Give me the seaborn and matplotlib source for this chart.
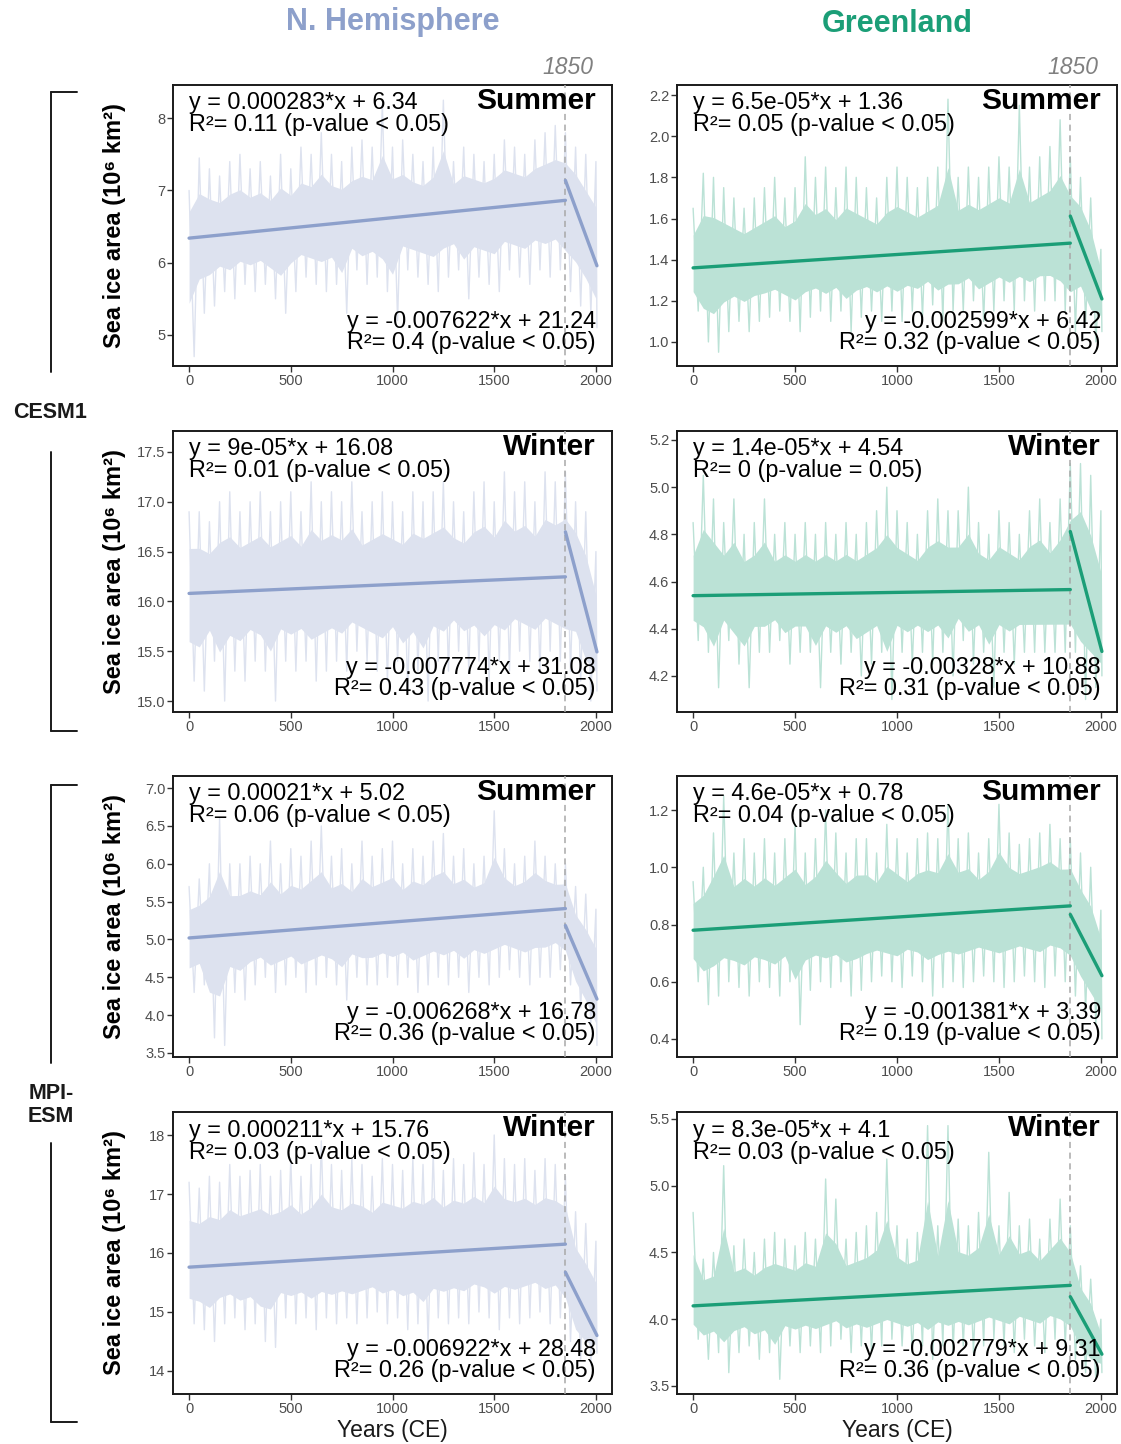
import numpy as np
import pandas as pd
import matplotlib
matplotlib.use("Agg")
import matplotlib.pyplot as plt
import seaborn as sns
from matplotlib.lines import Line2D
from matplotlib.ticker import FormatStrFormatter
from matplotlib.transforms import blended_transform_factory

sns.set_theme(style="ticks")
plt.rcParams['font.family'] = ['Liberation Sans', 'DejaVu Sans']
plt.rcParams['text.color'] = 'black'
plt.rcParams['axes.labelcolor'] = 'black'

# ---------------- data ----------------
years50 = list(range(0, 2001, 50))

# CESM1 - N. Hemisphere summer: upper / lower extremes per 50-yr step
cesm_nh_sum_hi = [7.0, 7.45, 7.3, 7.2, 7.4, 7.5, 7.3, 7.4, 7.2, 7.5, 7.3, 7.6, 7.5, 7.8, 7.5, 7.4, 7.6, 7.7, 7.6, 8.2,
                  7.6, 7.7, 7.5, 7.4, 7.6, 8.25, 7.4, 7.6, 7.5, 7.4, 7.5, 7.7, 7.6, 7.5, 7.7, 7.8, 7.9, 7.8, 7.6, 7.5, 7.4]
cesm_nh_sum_lo = [4.7, 5.3, 5.4, 5.6, 5.5, 5.7, 5.6, 5.7, 5.5, 5.3, 5.6, 5.8, 5.7, 5.6, 5.7, 5.3, 5.9, 5.7, 5.8, 5.6,
                  5.2, 5.9, 5.8, 5.7, 5.6, 5.8, 5.9, 5.5, 5.8, 5.7, 5.6, 5.9, 5.8, 5.7, 5.9, 5.8, 5.9, 5.6, 5.4, 5.3, 5.1]
# CESM1 - Greenland summer
cesm_gl_sum_hi = [1.65, 1.82, 1.8, 1.75, 1.7, 1.65, 1.7, 1.75, 1.8, 1.7, 1.75, 1.9, 1.8, 1.85, 1.75, 1.85, 1.8, 1.75, 1.7, 1.8,
                  1.85, 1.8, 1.75, 1.8, 1.85, 2.18, 1.8, 1.85, 1.8, 1.85, 1.9, 1.85, 2.15, 1.85, 1.9, 1.95, 2.08, 1.9, 1.8, 1.7, 1.45]
cesm_gl_sum_lo = [1.15, 1.0, 0.95, 1.05, 1.1, 1.05, 1.1, 1.12, 1.15, 1.1, 1.05, 1.12, 1.15, 1.1, 1.15, 1.05, 1.12, 1.15, 1.1, 1.15,
                  1.1, 1.15, 1.12, 1.18, 1.1, 1.15, 1.15, 1.2, 1.1, 1.15, 1.2, 1.15, 1.2, 1.15, 1.2, 1.2, 1.15, 1.05, 1.1, 1.0, 1.05]
# CESM1 - N. Hemisphere winter
cesm_nh_win_hi = [16.9, 16.9, 16.8, 17.0, 17.1, 16.9, 17.0, 17.1, 16.9, 17.0, 17.1, 16.9, 17.2, 17.0, 17.1, 17.0, 17.2, 16.9, 17.0, 17.1,
                  17.0, 16.9, 17.1, 17.0, 17.1, 17.2, 17.0, 16.9, 17.1, 17.2, 17.0, 17.3, 17.1, 17.2, 17.0, 17.3, 17.2, 17.3, 17.0, 16.9, 16.5]
cesm_nh_win_lo = [15.2, 15.1, 15.4, 15.0, 15.3, 15.2, 15.4, 15.3, 15.0, 15.4, 15.3, 15.4, 15.2, 15.3, 15.4, 15.3, 15.5, 15.4, 15.3, 15.2,
                  15.4, 15.1, 15.3, 15.0, 15.4, 15.3, 15.5, 15.3, 15.4, 15.2, 15.4, 15.3, 15.5, 15.4, 15.3, 15.5, 15.4, 15.3, 15.2, 15.0, 15.1]
# CESM1 - Greenland winter
cesm_gl_win_hi = [4.85, 5.05, 4.95, 4.85, 4.95, 4.8, 4.85, 4.95, 4.8, 4.85, 4.8, 4.85, 4.8, 4.85, 4.8, 4.85, 4.8, 4.85, 4.9, 5.0,
                  4.9, 4.85, 4.8, 4.9, 4.95, 4.9, 4.9, 5.0, 4.85, 4.8, 4.9, 4.85, 4.8, 4.9, 4.95, 4.85, 4.95, 5.1, 5.1, 5.05, 4.9]
cesm_gl_win_lo = [4.35, 4.3, 4.15, 4.35, 4.25, 4.15, 4.3, 4.3, 4.35, 4.25, 4.3, 4.3, 4.15, 4.3, 4.25, 4.3, 4.2, 4.25, 4.3, 4.1,
                  4.3, 4.25, 4.3, 4.25, 4.3, 4.2, 4.35, 4.25, 4.3, 4.15, 4.3, 4.25, 4.3, 4.3, 4.3, 4.3, 4.3, 4.3, 4.1, 4.15, 4.2]
# MPI-ESM - N. Hemisphere summer
mpi_nh_sum_hi = [5.7, 5.8, 6.0, 6.6, 6.0, 6.0, 6.1, 6.0, 6.3, 6.0, 6.2, 6.1, 6.3, 6.5, 6.1, 6.2, 6.0, 6.3, 6.1, 6.2,
                 6.3, 6.0, 6.2, 6.1, 6.3, 6.4, 6.1, 6.2, 6.0, 6.1, 6.7, 6.2, 6.0, 6.1, 6.3, 6.1, 6.0, 6.0, 5.7, 5.6, 5.4]
mpi_nh_sum_lo = [4.3, 4.4, 3.7, 3.6, 4.3, 4.2, 4.4, 4.5, 4.3, 4.4, 4.5, 4.3, 4.4, 4.5, 4.4, 4.2, 4.5, 4.4, 4.4, 4.5,
                 4.4, 4.5, 4.3, 4.4, 4.5, 4.4, 4.5, 4.3, 4.5, 4.4, 4.5, 4.6, 4.5, 4.4, 4.5, 4.5, 4.6, 4.4, 4.1, 3.9, 3.6]
# MPI-ESM - Greenland summer
mpi_gl_sum_hi = [0.95, 1.0, 1.12, 1.25, 1.05, 1.1, 1.05, 1.1, 1.05, 1.1, 1.15, 1.05, 1.1, 1.2, 1.12, 1.05, 1.1, 1.1, 1.05, 1.15,
                 1.1, 1.05, 1.1, 1.12, 1.1, 1.22, 1.1, 1.12, 1.05, 1.1, 1.22, 1.12, 1.08, 1.1, 1.12, 1.15, 1.1, 1.1, 1.05, 1.0, 0.85]
mpi_gl_sum_lo = [0.6, 0.52, 0.55, 0.6, 0.58, 0.55, 0.6, 0.58, 0.55, 0.6, 0.45, 0.57, 0.6, 0.58, 0.6, 0.55, 0.57, 0.6, 0.62, 0.6,
                 0.58, 0.62, 0.6, 0.55, 0.58, 0.6, 0.58, 0.6, 0.62, 0.6, 0.58, 0.6, 0.62, 0.6, 0.58, 0.62, 0.6, 0.55, 0.5, 0.45, 0.4]
# MPI-ESM - N. Hemisphere winter
mpi_nh_win_hi = [17.2, 17.1, 17.3, 17.2, 17.5, 17.3, 17.4, 17.5, 17.3, 17.4, 17.6, 17.3, 17.5, 17.9, 17.5, 17.4, 17.6, 17.5, 17.3, 17.6,
                 17.5, 17.4, 17.6, 17.5, 17.7, 17.4, 17.6, 17.5, 17.7, 17.5, 18.0, 17.6, 17.5, 17.6, 17.4, 17.6, 17.5, 17.3, 16.7, 16.5, 16.2]
mpi_nh_win_lo = [14.8, 14.7, 14.5, 14.8, 14.9, 14.7, 14.8, 14.5, 14.4, 14.9, 14.8, 14.9, 14.7, 14.9, 14.8, 14.9, 14.8, 14.9, 15.0, 14.8,
                 14.9, 14.7, 14.8, 14.5, 14.9, 14.8, 14.9, 14.8, 15.0, 14.9, 14.7, 14.9, 14.8, 14.9, 15.0, 14.8, 14.9, 14.5, 14.2, 14.1, 14.3]
# MPI-ESM - Greenland winter
mpi_gl_win_hi = [4.8, 4.45, 4.5, 5.15, 4.55, 4.6, 4.5, 4.6, 4.65, 4.6, 4.55, 4.65, 4.6, 5.05, 4.9, 4.6, 4.65, 4.7, 4.8, 5.2,
                 4.7, 4.6, 4.65, 5.45, 4.7, 5.45, 4.75, 4.7, 4.8, 5.25, 4.7, 4.95, 4.7, 4.75, 4.6, 4.75, 4.9, 4.7, 4.4, 4.3, 4.0]
mpi_gl_win_lo = [3.85, 3.7, 3.75, 3.6, 3.75, 3.8, 3.7, 3.75, 3.55, 3.8, 3.75, 3.8, 3.75, 3.8, 3.85, 3.75, 3.8, 3.75, 3.8, 3.85,
                 3.8, 3.75, 3.8, 3.7, 3.8, 3.75, 3.8, 3.75, 3.8, 3.85, 3.8, 3.75, 3.85, 3.8, 3.75, 3.85, 3.8, 3.7, 3.6, 3.55, 3.6]

# regression fits: (slope, intercept) before and after 1850
pre_fit = [(0.000283, 6.34), (6.5e-05, 1.36), (9e-05, 16.08), (1.4e-05, 4.54),
           (0.00021, 5.02), (4.6e-05, 0.78), (0.000211, 15.76), (8.3e-05, 4.1)]
post_fit = [(-0.007622, 21.24), (-0.002599, 6.42), (-0.007774, 31.08), (-0.00328, 10.88),
            (-0.006268, 16.78), (-0.001381, 3.39), (-0.006922, 28.48), (-0.002779, 9.31)]
pre_eq = ["y = 0.000283*x + 6.34", "y = 6.5e-05*x + 1.36", "y = 9e-05*x + 16.08", "y = 1.4e-05*x + 4.54",
          "y = 0.00021*x + 5.02", "y = 4.6e-05*x + 0.78", "y = 0.000211*x + 15.76", "y = 8.3e-05*x + 4.1"]
pre_r2 = ["R²= 0.11 (p-value < 0.05)", "R²= 0.05 (p-value < 0.05)", "R²= 0.01 (p-value < 0.05)",
          "R²= 0 (p-value = 0.05)", "R²= 0.06 (p-value < 0.05)", "R²= 0.04 (p-value < 0.05)",
          "R²= 0.03 (p-value < 0.05)", "R²= 0.03 (p-value < 0.05)"]
post_eq = ["y = -0.007622*x + 21.24", "y = -0.002599*x + 6.42", "y = -0.007774*x + 31.08", "y = -0.00328*x + 10.88",
           "y = -0.006268*x + 16.78", "y = -0.001381*x + 3.39", "y = -0.006922*x + 28.48", "y = -0.002779*x + 9.31"]
post_r2 = ["R²= 0.4 (p-value < 0.05)", "R²= 0.32 (p-value < 0.05)", "R²= 0.43 (p-value < 0.05)",
           "R²= 0.31 (p-value < 0.05)", "R²= 0.36 (p-value < 0.05)", "R²= 0.19 (p-value < 0.05)",
           "R²= 0.26 (p-value < 0.05)", "R²= 0.36 (p-value < 0.05)"]
seasons = ["Summer", "Summer", "Winter", "Winter", "Summer", "Summer", "Winter", "Winter"]
column_titles = ["N. Hemisphere", "Greenland"]
model_labels = ["CESM1", "MPI-\nESM"]
yticks = [[5, 6, 7, 8], [1.0, 1.2, 1.4, 1.6, 1.8, 2.0, 2.2], [15.0, 15.5, 16.0, 16.5, 17.0, 17.5],
          [4.2, 4.4, 4.6, 4.8, 5.0, 5.2], [3.5, 4.0, 4.5, 5.0, 5.5, 6.0, 6.5, 7.0], [0.4, 0.6, 0.8, 1.0, 1.2],
          [14, 15, 16, 17, 18], [3.5, 4.0, 4.5, 5.0, 5.5]]
xticks = [0, 500, 1000, 1500, 2000]
breakpoint_year = 1850
end_year = 2005

his = [cesm_nh_sum_hi, cesm_gl_sum_hi, cesm_nh_win_hi, cesm_gl_win_hi,
       mpi_nh_sum_hi, mpi_gl_sum_hi, mpi_nh_win_hi, mpi_gl_win_hi]
los = [cesm_nh_sum_lo, cesm_gl_sum_lo, cesm_nh_win_lo, cesm_gl_win_lo,
       mpi_nh_sum_lo, mpi_gl_sum_lo, mpi_nh_win_lo, mpi_gl_win_lo]

# ---------------- style / layout ----------------
W, H = 1121, 1444
fig = plt.figure(figsize=(W / 100, H / 100), dpi=100)

nh_col, nh_light = "#8DA0CB", "#DDE2EF"
gl_col, gl_light = "#1B9E77", "#BBE2D6"

col_x = [(173, 612), (677, 1117)]
row_y = [(85, 366), (431, 712), (776, 1057), (1112, 1394)]
ylims = [(4.57, 8.46), (0.883, 2.249), (14.89, 17.71), (4.047, 5.238),
         (3.447, 7.16), (0.337, 1.319), (13.61, 18.39), (3.44, 5.552)]
yfmt = ["%d", "%.1f", "%.1f", "%.1f", "%.1f", "%.1f", "%d", "%.1f"]
core_share = 0.55   # share of the extreme range drawn as the dense core of the series


def fig_rect(x0, x1, y0, y1):
    return [x0 / W, 1 - y1 / H, (x1 - x0) / W, (y1 - y0) / H]


EQ_FS = 16.8

for i in range(8):
    r, c = i // 2, i % 2
    ax = fig.add_axes(fig_rect(*col_x[c], *row_y[r]))
    color, light = (nh_col, nh_light) if c == 0 else (gl_col, gl_light)

    a0, b0 = pre_fit[i]
    a1, b1 = post_fit[i]
    hi, lo = np.array(his[i]), np.array(los[i])
    yrs = np.array(years50)
    centre = np.where(yrs <= breakpoint_year, a0 * yrs + b0, a1 * yrs + b1)

    # dense core of the annual series
    ax.fill_between(yrs, centre + core_share * (lo - centre), centre + core_share * (hi - centre),
                    color=light, lw=0, zorder=1)
    # annual series spikes drawn as alternating extremes
    xs, ys = [], []
    for k, yr in enumerate(years50):
        xs += [yr, min(yr + 25, end_year)]
        ys += [hi[k], lo[k]]
    ser = pd.DataFrame({"year": xs, "area": ys})
    sns.lineplot(data=ser, x="year", y="area", ax=ax, color=light, lw=1.0,
                 estimator=None, sort=False, zorder=2)

    ax.axvline(breakpoint_year, color="#a8a8a8", ls=(0, (4, 3)), lw=1.1, zorder=3)

    pre = pd.DataFrame({"year": [0, breakpoint_year],
                        "area": [b0, a0 * breakpoint_year + b0]})
    post = pd.DataFrame({"year": [breakpoint_year, end_year],
                         "area": [a1 * breakpoint_year + b1, a1 * end_year + b1]})
    sns.lineplot(data=pre, x="year", y="area", ax=ax, color=color, lw=2.4, zorder=4)
    sns.lineplot(data=post, x="year", y="area", ax=ax, color=color, lw=2.4, zorder=4)

    ax.set_xlim(-79, 2079)
    ax.set_ylim(*ylims[i])
    ax.set_xticks(xticks)
    ax.set_yticks(yticks[i])
    ax.yaxis.set_major_formatter(FormatStrFormatter(yfmt[i]))
    ax.tick_params(axis="both", labelsize=10.5, labelcolor="#4d4d4d", color="#333333",
                   length=4, width=1, pad=1.5)
    for s in ax.spines.values():
        s.set_color("#1a1a1a")
        s.set_linewidth(1.4)
        s.set_visible(True)

    tr = blended_transform_factory(ax.transData, ax.transAxes)
    ax.text(0, 0.936, pre_eq[i], transform=tr, ha="left", va="center", fontsize=EQ_FS, zorder=6)
    ax.text(0, 0.858, pre_r2[i], transform=tr, ha="left", va="center", fontsize=EQ_FS, zorder=6)
    ax.text(2000, 0.157, post_eq[i], transform=tr, ha="right", va="center", fontsize=EQ_FS, zorder=6)
    ax.text(2000, 0.082, post_r2[i], transform=tr, ha="right", va="center", fontsize=EQ_FS, zorder=6)
    ax.text(2000, 0.943, seasons[i], transform=tr, ha="right", va="center", fontsize=21.5,
            fontweight="bold", zorder=6)

    if r == 0:
        ax.text(1862, 1.064, str(breakpoint_year), transform=tr, ha="center", va="center",
                fontsize=16.5, style="italic", color="#808080")

    if c == 0:
        ax.set_ylabel("Sea ice area (10⁶ km²)", fontsize=17, fontweight="bold")
        ax.yaxis.set_label_coords(-0.107, 0.5)
    else:
        ax.set_ylabel("")
    if r == 3:
        ax.set_xlabel("Years (CE)", fontsize=16.5, color="#1a1a1a")
        ax.xaxis.set_label_coords(0.5, -0.128)
        ax.xaxis.label.set_va("center")
    else:
        ax.set_xlabel("")

# column titles
fig.text(393 / W, 1 - 22 / H, column_titles[0], ha="center", va="center", fontsize=22,
         fontweight="bold", color=nh_col)
fig.text(897 / W, 1 - 24 / H, column_titles[1], ha="center", va="center", fontsize=22,
         fontweight="bold", color=gl_col)

# model labels and brackets
fig.text(50 / W, 1 - 413 / H, model_labels[0], ha="center", va="center", fontsize=15.5,
         fontweight="bold", color="#1a1a1a")
fig.text(51 / W, 1 - 1105 / H, model_labels[1], ha="center", va="center", fontsize=15.5,
         fontweight="bold", color="#1a1a1a", linespacing=1.15)


def seg(x0, y0, x1, y1):
    fig.add_artist(Line2D([x0 / W, x1 / W], [1 - y0 / H, 1 - y1 / H], transform=fig.transFigure,
                          color="#1a1a1a", lw=1.4))


bx, tx = 51, 77
seg(bx, 92, bx, 372); seg(bx, 92, tx, 92)
seg(bx, 452, bx, 731); seg(bx, 731, tx, 731)
seg(bx, 785, bx, 1063); seg(bx, 785, tx, 785)
seg(bx, 1143, bx, 1422); seg(bx, 1422, tx, 1422)

fig.savefig("out.png", dpi=100, facecolor="white")
